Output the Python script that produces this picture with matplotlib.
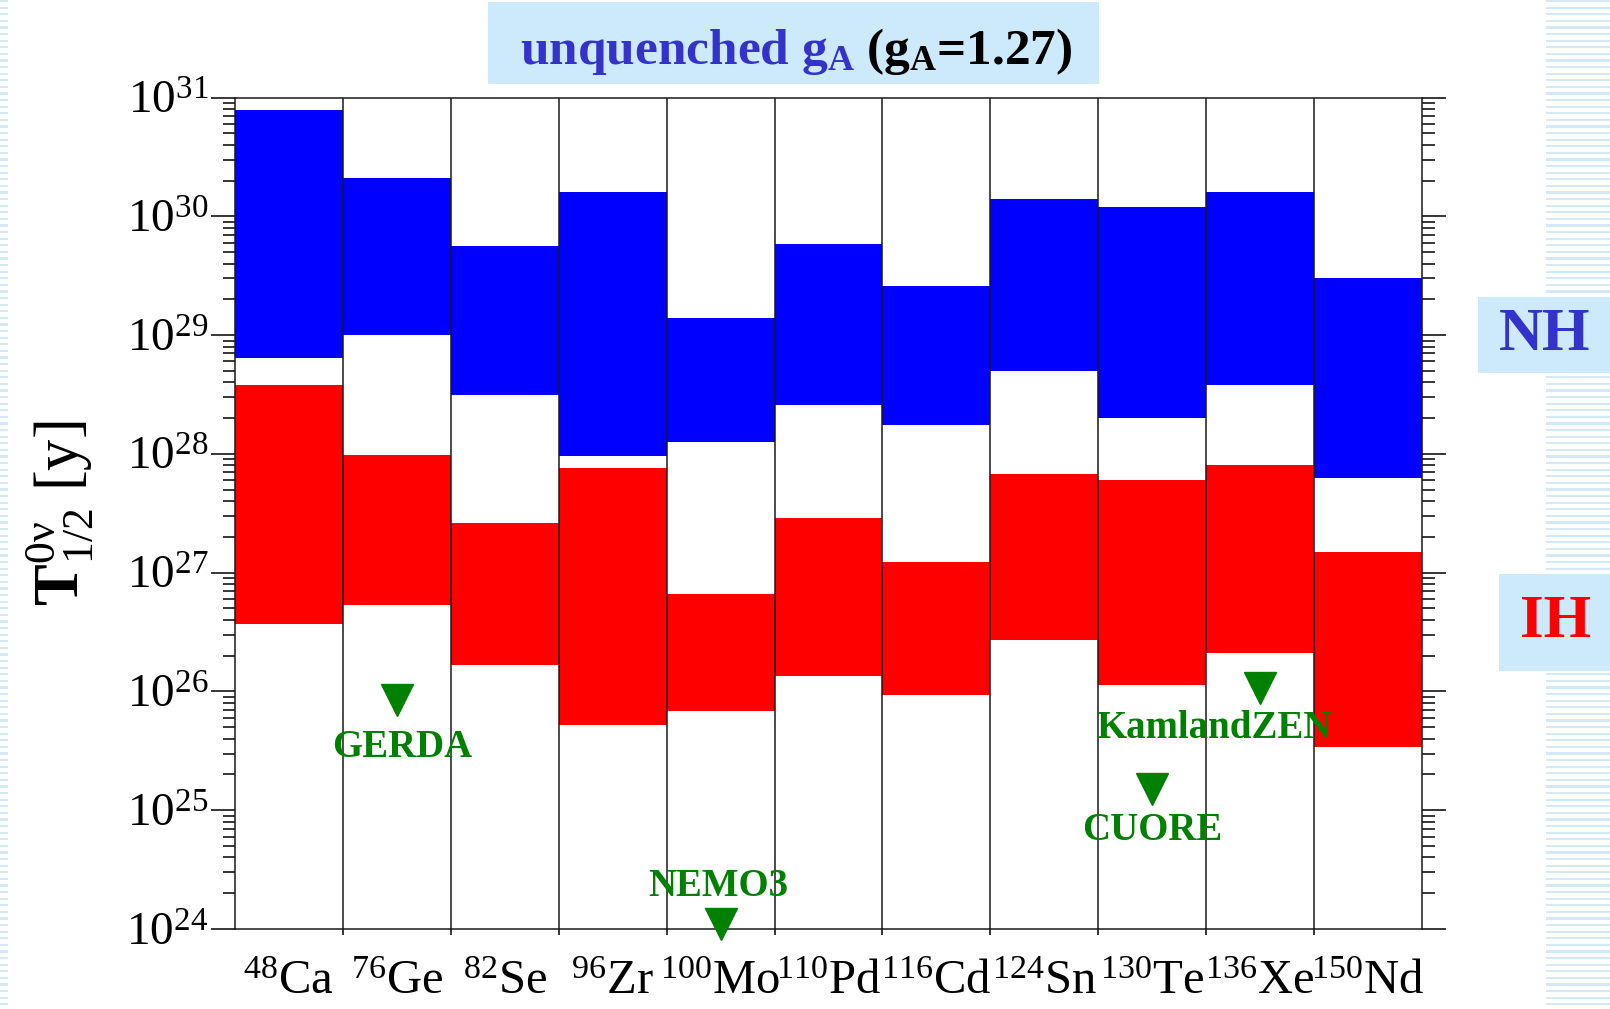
"""Half-life sensitivity bands for 0vbb candidate isotopes (unquenched g_A)."""
import numpy as np
import matplotlib
matplotlib.use("Agg")
import matplotlib.pyplot as plt
from matplotlib.patches import Rectangle
from matplotlib.ticker import LogLocator, NullFormatter

plt.rcParams["font.family"] = ["Liberation Serif", "DejaVu Serif"]
plt.rcParams["mathtext.fontset"] = "custom"
plt.rcParams["mathtext.rm"] = "Liberation Serif"
plt.rcParams["mathtext.it"] = "Liberation Serif:italic"
plt.rcParams["mathtext.bf"] = "Liberation Serif:bold"

# isotopes: mass number and element
masses = ["48", "76", "82", "96", "100", "110", "116", "124", "130", "136", "150"]
elements = ["Ca", "Ge", "Se", "Zr", "Mo", "Pd", "Cd", "Sn", "Te", "Xe", "Nd"]

# normal hierarchy band (years)
nh_low = [6.4e28, 1.0e29, 3.1e28, 9.6e27, 1.26e28, 2.6e28, 1.74e28, 5.0e28, 2.0e28, 3.8e28, 6.3e27]
nh_high = [7.9e30, 2.1e30, 5.6e29, 1.6e30, 1.38e29, 5.9e29, 2.6e29, 1.4e30, 1.2e30, 1.6e30, 3.0e29]

# inverted hierarchy band (years)
ih_low = [3.7e26, 5.3e26, 1.67e26, 5.2e25, 6.9e25, 1.35e26, 9.4e25, 2.7e26, 1.14e26, 2.1e26, 3.4e25]
ih_high = [3.8e28, 9.8e27, 2.6e27, 7.6e27, 6.6e26, 2.9e27, 1.23e27, 6.8e27, 6.0e27, 8.1e27, 1.48e27]

# experimental lower limits
exp_names = ["GERDA", "NEMO3", "CUORE", "KamlandZEN"]
exp_isotope = ["Ge", "Mo", "Te", "Xe"]
exp_limits = [8.5e25, 1.1e24, 1.5e25, 1.07e26]
exp_label_offsets = [(4, -34), (-2, 27), (0, -30), (-33, -29)]

W, H = 1610, 1009
fig = plt.figure(figsize=(W / 100, H / 100), dpi=100)


def fig_rect(x0, y0, x1, y1, **kw):
    # rectangle given in pixel coords measured from the top-left corner
    fig.add_artist(Rectangle((x0 / W, 1 - y1 / H), (x1 - x0) / W, (y1 - y0) / H,
                             transform=fig.transFigure, linewidth=0, **kw))


# striped side margins
stripe = "#d3e9f5"
for yy in np.arange(0, H, 6.6):
    fig_rect(0, yy, 8, yy + 2.2, color=stripe, zorder=0)
    fig_rect(1546, yy, W, yy + 2.2, color=stripe, zorder=0)

ax = fig.add_axes([235 / W, 1 - 929 / H, (1422 - 235) / W, (929 - 97.5) / H])
x = np.arange(len(elements))

ax.bar(x, np.array(nh_high) - np.array(nh_low), bottom=nh_low, width=1.0,
       color="#0000ff", linewidth=0, zorder=2)
ax.bar(x, np.array(ih_high) - np.array(ih_low), bottom=ih_low, width=1.0,
       color="#ff0000", linewidth=0, zorder=2)

for b in x[:-1] + 0.5:
    ax.axvline(b, color="#1a1a1a", lw=1.1, zorder=3)

for name, iso, lim, off in zip(exp_names, exp_isotope, exp_limits, exp_label_offsets):
    xi = elements.index(iso)
    ax.plot(xi, lim, marker="v", markersize=23, color="#008000", linestyle="none",
            zorder=5, clip_on=False)
    ax.annotate(name, (xi, lim), xytext=off, textcoords="offset points",
                ha="center", va="center", fontsize=28, fontweight="bold",
                color="#008000", zorder=6, annotation_clip=False)

ax.set_yscale("log")
ax.set_ylim(1e24, 1e31)
ax.set_xlim(-0.5, 10.5)

exps = np.arange(24, 32)
ax.set_yticks(10.0 ** exps, [r"$10^{%d}$" % e for e in exps])
ax.yaxis.set_minor_locator(LogLocator(base=10, subs=np.arange(2, 10), numticks=100))
ax.yaxis.set_minor_formatter(NullFormatter())
ax.yaxis.set_ticks_position("both")
ax.tick_params(axis="y", which="major", direction="out", length=17, width=1.1,
               labelsize=34, pad=2)
ax.tick_params(axis="y", which="minor", direction="out", length=9, width=1.1)

ax.set_xticks(x, [r"$^{%s}$%s" % (m, e) for m, e in zip(masses, elements)])
ax.set_xticks(x[:-1] + 0.5, minor=True)
ax.tick_params(axis="x", which="major", length=0, labelsize=35, pad=22)
ax.tick_params(axis="x", which="minor", direction="out", length=4, width=1.1)

for s in ax.spines.values():
    s.set_linewidth(1.1)
    s.set_color("#1a1a1a")

ax.set_ylabel(r"$\mathbf{T}^{\mathrm{0ν}}_{\mathrm{1/2}}$ [y]", fontsize=45)
ax.yaxis.set_label_coords(-0.118, 0.5)

# title banner
fig_rect(488, 2, 1099, 84, color="#cceafc", zorder=1)
fig.text(855 / W, 1 - 64 / H, r"unquenched $\mathbf{g_A}$", color="#3333cc",
         fontsize=37, fontweight="bold", ha="right", va="baseline", zorder=2)
fig.text(866 / W, 1 - 64 / H, r"($\mathbf{g_A}$=1.27)", color="black",
         fontsize=37, fontweight="bold", ha="left", va="baseline", zorder=2)

# hierarchy tags
fig_rect(1478, 297, W, 373, color="#cceafc", zorder=1)
fig.text(1545 / W, 1 - 335 / H, "NH", color="#3333cc", fontsize=44,
         fontweight="bold", ha="center", va="center", zorder=2)
fig_rect(1499, 574, W, 671, color="#cceafc", zorder=1)
fig.text(1556 / W, 1 - 622 / H, "IH", color="#ff0000", fontsize=44,
         fontweight="bold", ha="center", va="center", zorder=2)

fig.savefig("out.png", dpi=100)
